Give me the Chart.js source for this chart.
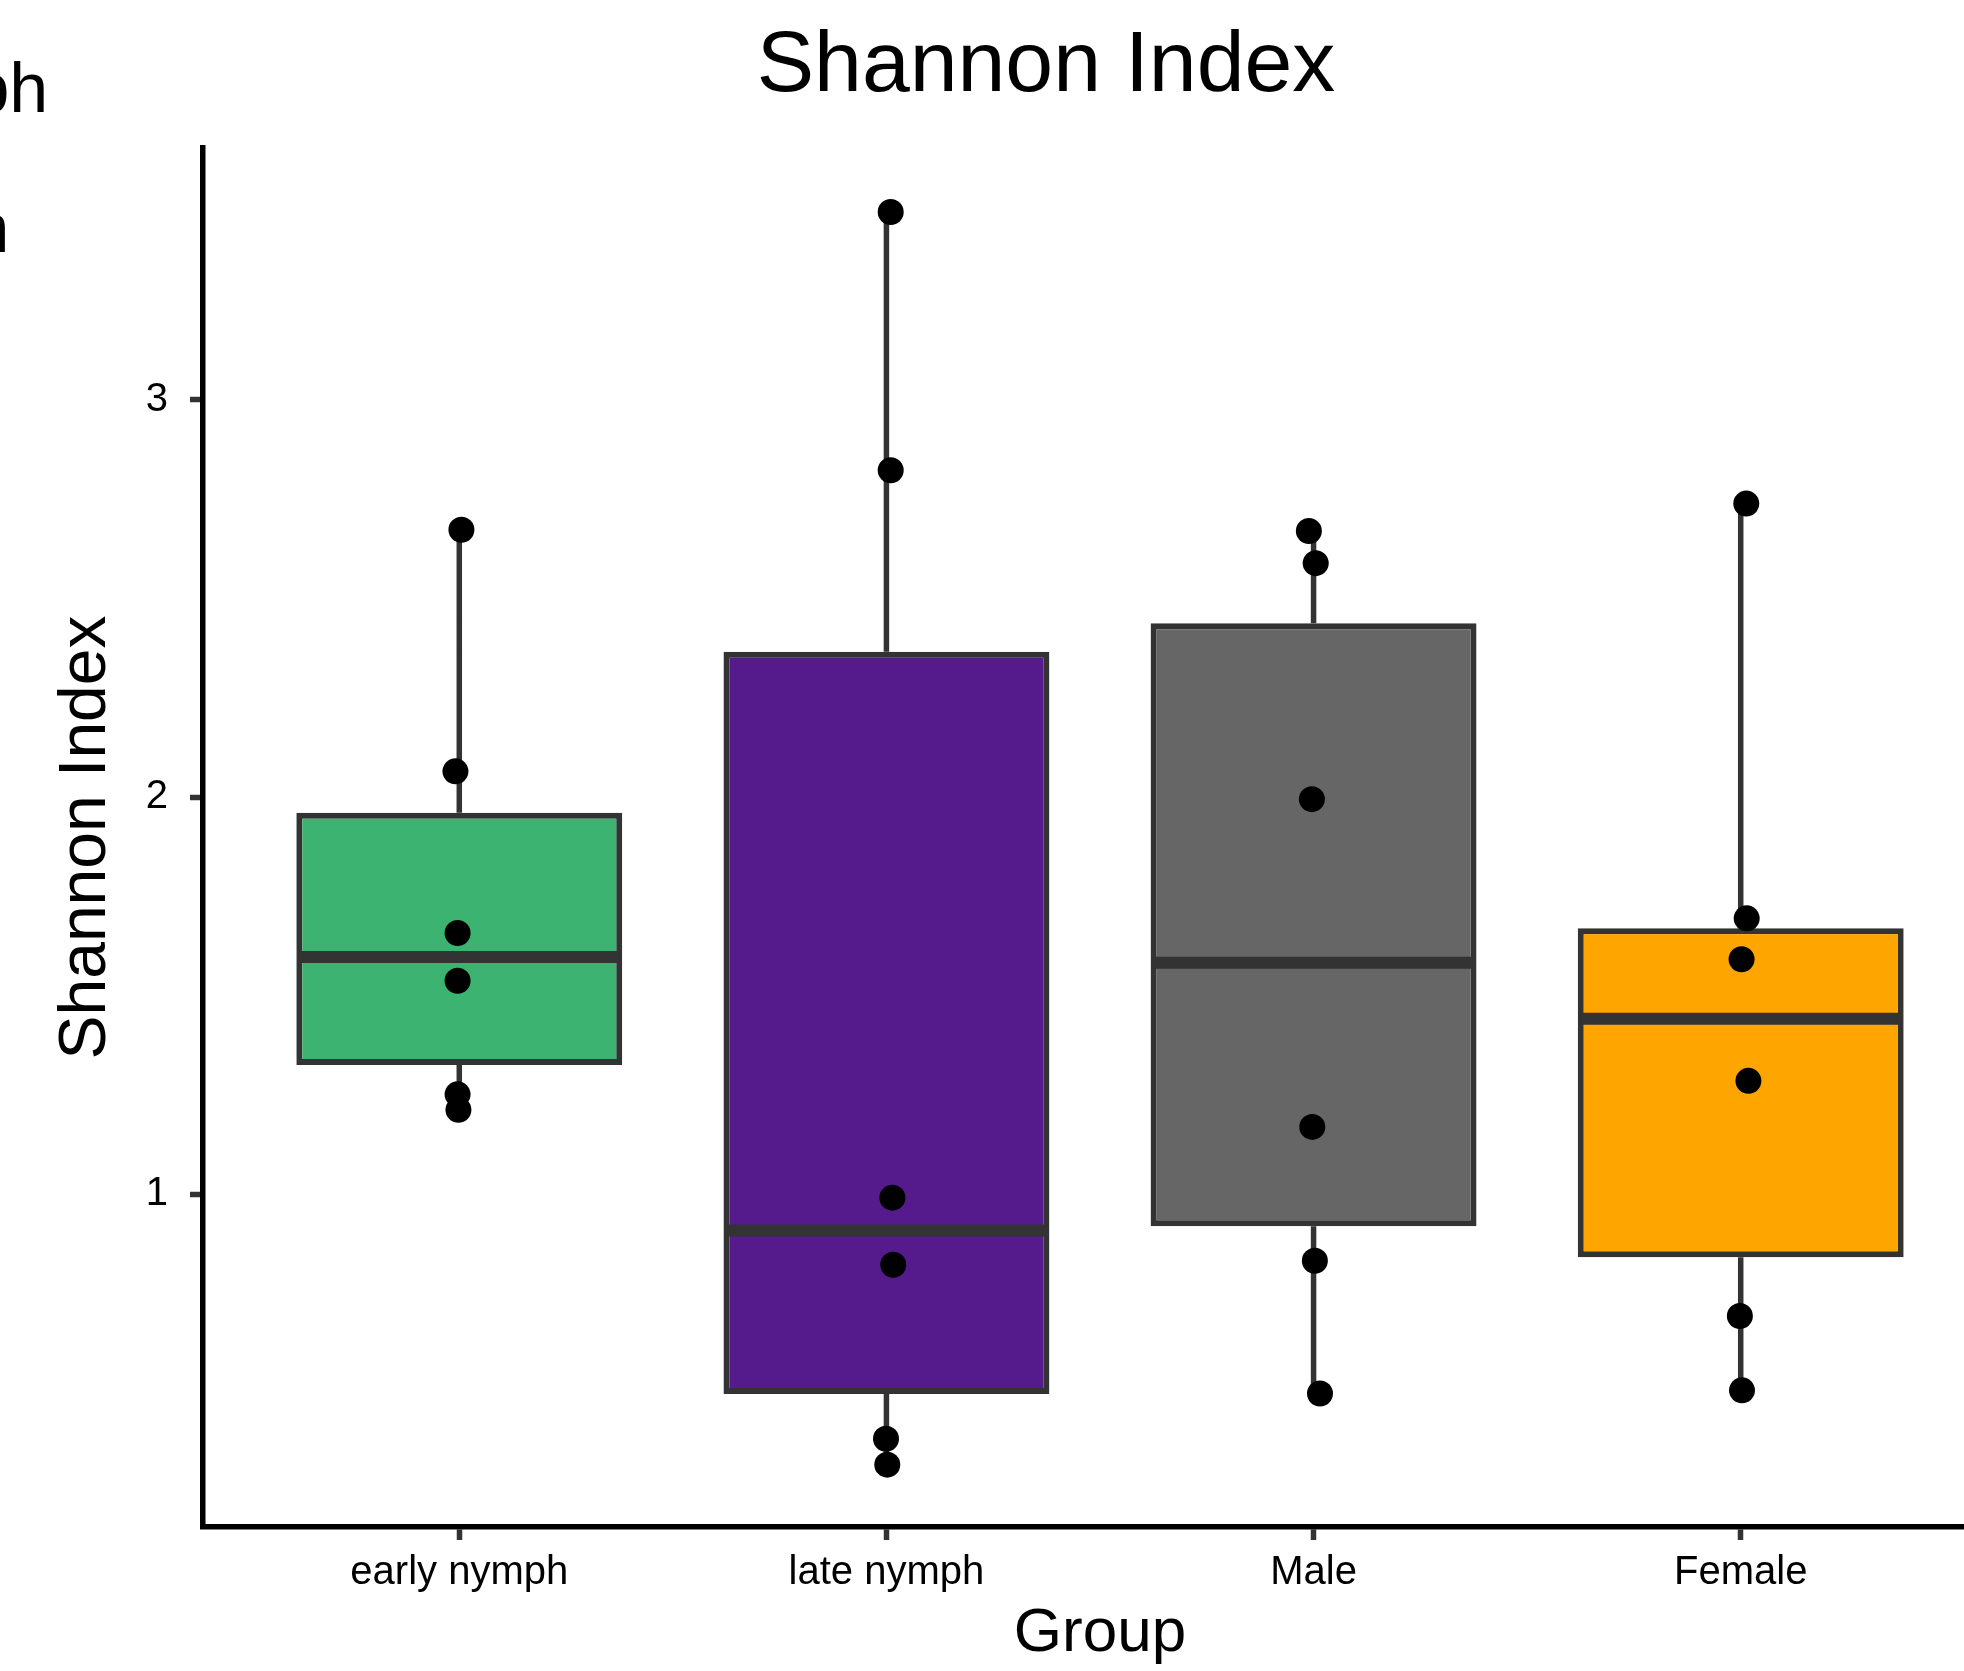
<!DOCTYPE html>
<html>
<head>
<meta charset="utf-8">
<script src="https://cdn.jsdelivr.net/npm/chart.js@4.4.1/dist/chart.umd.min.js"></script>
<style>
html,body{margin:0;padding:0;background:#fff;overflow:hidden;width:1964px;height:1671px}
canvas{display:block}
</style>
</head>
<body>
<canvas id="c" width="2010" height="1671"></canvas>
<script>
// ---------- data ----------
const CATEGORIES = ['early nymph', 'late nymph', 'Male', 'Female'];
const Y_TICKS = [1, 2, 3];
const BOX_Q1 = [1.326, 0.498, 0.920, 0.842];
const BOX_MEDIAN = [1.598, 0.909, 1.583, 1.442];
const BOX_Q3 = [1.961, 2.366, 2.438, 1.670];
const WHISKER_LOW = [1.213, 0.320, 0.499, 0.507];
const WHISKER_HIGH = [2.673, 3.473, 2.670, 2.739];
const POINTS_EARLY = [2.673, 2.065, 1.658, 1.538, 1.252, 1.213];
const POINTS_LATE = [3.473, 2.823, 0.992, 0.823, 0.385, 0.320];
const POINTS_MALE = [2.670, 2.589, 1.995, 1.170, 0.833, 0.499];
const POINTS_FEMALE = [2.739, 1.695, 1.592, 1.286, 0.694, 0.507];
const JITTER_EARLY = [0.005, -0.009, -0.004, -0.004, -0.004, -0.002];
const JITTER_LATE = [0.010, 0.010, 0.014, 0.016, -0.001, 0.002];
const JITTER_MALE = [-0.011, 0.005, -0.004, -0.003, 0.003, 0.015];
const JITTER_FEMALE = [0.013, 0.014, 0.002, 0.018, -0.002, 0.003];
const LEGEND_LABELS = ['early nymph', 'late nymph'];

// ---------- styles ----------
const FAMILY = "'Liberation Sans', Arial, Helvetica, sans-serif";
const FILLS = ['#3CB371', '#551A8B', '#666666', '#FFA500'];
const OUTLINE = '#333333';
const BOX_WIDTH = 0.75;

const POINTS = [POINTS_EARLY, POINTS_LATE, POINTS_MALE, POINTS_FEMALE];
const JITTER = [JITTER_EARLY, JITTER_LATE, JITTER_MALE, JITTER_FEMALE];
const groupX = CATEGORIES.map((_, i) => i + 1);

const boxData = groupX.map((x, i) => ({ x, y: [BOX_Q1[i], BOX_Q3[i]] }));

const whiskerData = [];
groupX.forEach((x, i) => {
  whiskerData.push({ x, y: WHISKER_HIGH[i] }, { x, y: BOX_Q3[i] }, { x, y: null },
                   { x, y: BOX_Q1[i] }, { x, y: WHISKER_LOW[i] }, { x, y: null });
});

const medianData = [];
groupX.forEach((x, i) => {
  medianData.push({ x: x - BOX_WIDTH / 2, y: BOX_MEDIAN[i] },
                  { x: x + BOX_WIDTH / 2, y: BOX_MEDIAN[i] },
                  { x, y: null });
});

const pointData = [];
groupX.forEach((x, i) => {
  POINTS[i].forEach((v, k) => pointData.push({ x: x + JITTER[i][k], y: v }));
});

const legendFragment = {
  id: 'legendFragment',
  afterDraw(chart) {
    const ctx = chart.ctx;
    ctx.save();
    ctx.font = '70px ' + FAMILY;
    ctx.fillStyle = '#000';
    ctx.textAlign = 'left';
    ctx.textBaseline = 'alphabetic';
    LEGEND_LABELS.forEach((t, i) => ctx.fillText(t, -333, 112 + i * 140));
    ctx.restore();
  }
};

new Chart(document.getElementById('c'), {
  type: 'scatter',
  data: {
    datasets: [
      {
        type: 'scatter', data: pointData, order: 0,
        pointRadius: 13, pointHoverRadius: 13,
        pointBackgroundColor: '#000', pointBorderWidth: 0, showLine: false
      },
      {
        type: 'line', data: medianData, order: 1,
        borderColor: OUTLINE, borderWidth: 12, borderCapStyle: 'butt',
        pointRadius: 0, fill: false, spanGaps: false, tension: 0
      },
      {
        type: 'line', data: whiskerData, order: 2,
        borderColor: OUTLINE, borderWidth: 5.5, borderCapStyle: 'butt',
        pointRadius: 0, fill: false, spanGaps: false, tension: 0
      },
      {
        type: 'bar', data: boxData, order: 3,
        backgroundColor: FILLS, borderColor: OUTLINE, borderWidth: 6,
        borderSkipped: false, barPercentage: 0.763, categoryPercentage: 1.0
      }
    ]
  },
  options: {
    responsive: false,
    animation: false,
    devicePixelRatio: 1,
    layout: { padding: { left: 82, right: 0, top: 0, bottom: 0 } },
    plugins: {
      legend: { display: false },
      tooltip: { enabled: false },
      title: {
        display: true, text: 'Shannon Index', color: '#000',
        font: { size: 86, family: FAMILY, weight: 'normal' },
        padding: { top: 15.6, bottom: 29.2 }
      }
    },
    scales: {
      x: {
        type: 'linear', min: 0.4, max: 4.6, offset: false,
        afterBuildTicks: s => { s.ticks = groupX.map(v => ({ value: v })); },
        afterFit: s => { s.height = 144; s.paddingLeft = 0; s.paddingRight = 0; },
        ticks: {
          autoSkip: false, maxRotation: 0, includeBounds: false,
          color: '#000', padding: 9,
          font: { size: 40, family: FAMILY },
          callback: v => CATEGORIES[Math.round(v) - 1]
        },
        grid: { offset: false, drawOnChartArea: false, drawTicks: true, tickLength: 13, tickColor: OUTLINE, tickWidth: 5.5 },
        border: { display: true, color: '#000', width: 5.5 },
        title: {
          display: true, text: 'Group', color: '#000',
          font: { size: 62, family: FAMILY },
          padding: { top: 0, bottom: 0 }
        }
      },
      y: {
        type: 'linear', min: 0.163, max: 3.634,
        afterBuildTicks: s => { s.ticks = Y_TICKS.map(v => ({ value: v })); },
        afterFit: s => { s.width = 121; },
        ticks: {
          includeBounds: false, color: '#000', padding: 22,
          font: { size: 40, family: FAMILY },
          callback: v => String(v)
        },
        grid: { drawOnChartArea: false, drawTicks: true, tickLength: 13, tickColor: OUTLINE, tickWidth: 5.5 },
        border: { display: true, color: '#000', width: 5.5 },
        title: {
          display: true, text: 'Shannon Index', color: '#000',
          font: { size: 66, family: FAMILY },
          padding: { top: -34.6, bottom: 0 }
        }
      }
    }
  },
  plugins: [legendFragment]
});
</script>
</body>
</html>
